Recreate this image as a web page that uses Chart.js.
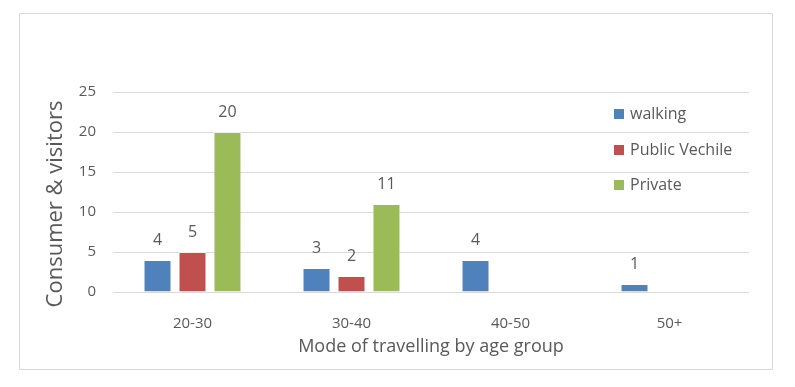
<!DOCTYPE html>
<html lang="en">
<head>
    <meta charset="UTF-8">
    <title>Mode of travelling by age group</title>
    <style>
        body { margin: 0; background: #fff; }
        #wrap { position: relative; width: 795px; height: 387px; }
    </style>
</head>
<body>
    <div id="wrap"><canvas id="chart" width="795" height="387"></canvas></div>
    <script src="https://cdn.jsdelivr.net/npm/chart.js"></script>
    <script>
        // data
        const ageGroups = ['20-30', '30-40', '40-50', '50+'];
        const walking = [4, 3, 4, 1];
        const publicVehicle = [5, 2, 0, 0];
        const privateVehicle = [20, 11, 0, 0];
        const seriesNames = ['walking', 'Public Vechile', 'Private'];
        const seriesColors = ['#4F81BD', '#C0504D', '#9BBB59'];
        const yTitle = 'Consumer & visitors';
        const xTitle = 'Mode of travelling by age group';

        const textGray = '#595959';
        const fontFamily = '"Open Sans", sans-serif';

        // frame around the whole chart + y title (sits a bit below the plot middle)
        const framePlugin = {
            id: 'frame',
            beforeDraw(chart) {
                const ctx = chart.ctx;
                ctx.save();
                ctx.fillStyle = '#fff';
                ctx.fillRect(0, 0, chart.width, chart.height);
                ctx.strokeStyle = '#D9D9D9';
                ctx.lineWidth = 1;
                ctx.strokeRect(19.5, 13.5, 753, 356);
                ctx.translate(56, 204);
                ctx.rotate(-Math.PI / 2);
                ctx.fillStyle = textGray;
                ctx.font = '22px ' + fontFamily;
                ctx.textAlign = 'center';
                ctx.textBaseline = 'middle';
                ctx.fillText(yTitle, 0, 0);
                ctx.restore();
            }
        };

        // value labels above the bars (zeros are skipped)
        const valueLabels = {
            id: 'valueLabels',
            afterDatasetsDraw(chart) {
                const ctx = chart.ctx;
                ctx.save();
                ctx.fillStyle = textGray;
                ctx.font = '16px ' + fontFamily;
                ctx.textAlign = 'center';
                ctx.textBaseline = 'middle';
                chart.data.datasets.forEach((ds, i) => {
                    chart.getDatasetMeta(i).data.forEach((bar, j) => {
                        if (!ds.data[j]) return;
                        ctx.fillText(ds.data[j], bar.x, bar.y - 20);
                    });
                });
                ctx.restore();
            }
        };

        // legend sitting inside the plot on the right
        const plotLegend = {
            id: 'plotLegend',
            afterDraw(chart) {
                const ctx = chart.ctx;
                const x = 614;
                const rows = [114, 150, 185];
                ctx.save();
                ctx.font = '16px ' + fontFamily;
                ctx.textBaseline = 'middle';
                seriesNames.forEach((name, i) => {
                    ctx.fillStyle = seriesColors[i];
                    ctx.fillRect(x, rows[i] - 5, 10, 10);
                    ctx.fillStyle = textGray;
                    ctx.fillText(name, x + 16, rows[i]);
                });
                ctx.restore();
            }
        };

        const values = [walking, publicVehicle, privateVehicle];

        new Chart(document.getElementById('chart'), {
            type: 'bar',
            data: {
                labels: ageGroups,
                datasets: values.map((v, i) => ({
                    label: seriesNames[i],
                    data: v,
                    backgroundColor: seriesColors[i],
                    borderColor: 'rgba(255,255,255,0.6)',
                    borderWidth: 1,
                    categoryPercentage: 0.66,
                    barPercentage: 0.8
                }))
            },
            options: {
                responsive: false,
                animation: false,
                layout: { padding: { top: 92, right: 46, left: 0, bottom: 0 } },
                plugins: {
                    legend: { display: false },
                    tooltip: { enabled: false }
                },
                scales: {
                    x: {
                        grid: { display: false },
                        border: { display: false },
                        ticks: { color: textGray, font: { family: fontFamily, size: 15 }, padding: 15 },
                        title: {
                            display: true,
                            text: xTitle,
                            color: textGray,
                            font: { family: fontFamily, size: 18 },
                            padding: { top: 0, bottom: 29 }
                        },
                        afterFit(scale) { scale.height = 95; }
                    },
                    y: {
                        min: 0,
                        max: 25,
                        ticks: { stepSize: 5, color: textGray, font: { family: fontFamily, size: 15 }, padding: 17 },
                        grid: { color: '#D9D9D9', drawTicks: false },
                        border: { display: false },
                        afterFit(scale) { scale.width = 113; }
                    }
                }
            },
            plugins: [framePlugin, valueLabels, plotLegend]
        });
    </script>
</body>
</html>
